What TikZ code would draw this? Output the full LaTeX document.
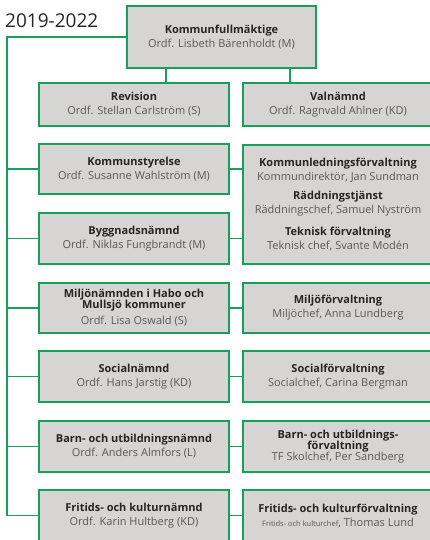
\documentclass[tikz,border=0pt]{standalone}
\usepackage{fontspec}
\setmainfont{Open Sans}
\definecolor{grn}{HTML}{16A05A}
\definecolor{boxfill}{HTML}{D6D5D3}
\definecolor{hdc}{HTML}{262626}
\definecolor{sbc}{HTML}{595959}
\newcommand\hdtxt[1]{{\color{hdc}\bfseries #1}}
\newcommand\sbtxt[1]{{\color{sbc}#1}}
\begin{document}
\begin{tikzpicture}[x=1pt,y=-1pt,
  box/.style={draw=grn, fill=boxfill, line width=1.3pt, inner sep=0pt, align=center,
    minimum width=190pt, font=\fontsize{11}{14}\selectfont},
  conn/.style={draw=grn, line width=1.1pt}]
\useasboundingbox (0,0) rectangle (430,540);
\clip (0,0) rectangle (430,540);
\fill[white] (0,0) rectangle (430,540);
\node[anchor=west, text=hdc, font=\fontsize{19}{22}\selectfont, inner sep=0pt] (yr) at (5,21) {2019-2022};
\node[box, minimum width=189pt, minimum height=62pt] (kf) at (221.5,37) {\hdtxt{Kommunfullmäktige}\\\sbtxt{Ordf. Lisbeth Bärenholdt (M)}};
\node[box, minimum height=43pt] (rev) at (134,104.5) {\hdtxt{Revision}\\\sbtxt{Ordf. Stellan Carlström (S)}};
\node[box, minimum height=43pt] (val) at (338,104.5) {\hdtxt{Valnämnd}\\\sbtxt{Ordf. Ragnvald Ahlner (KD)}};
\node[box, minimum height=50pt] (ks) at (134,169) {\hdtxt{Kommunstyrelse}\\\sbtxt{Ordf. Susanne Wahlström (M)}};
\node[box, minimum height=119pt] (kl) at (338,204.5) {\hdtxt{Kommunledningsförvaltning}\\\sbtxt{Kommundirektör, Jan Sundman}\\[5pt]\hdtxt{Räddningstjänst}\\\sbtxt{Räddningschef, Samuel Nyström}\\[8pt]\hdtxt{Teknisk förvaltning}\\\sbtxt{Teknisk chef, Svante Modén}};
\node[box, minimum height=51pt] (bn) at (134,238.5) {\hdtxt{Byggnadsnämnd}\\\sbtxt{Ordf. Niklas Fungbrandt (M)}};
\node[box, minimum height=50pt] (mn) at (134,308) {\hdtxt{Miljönämnden i Habo och}\\[-3pt]\hdtxt{Mullsjö kommuner}\\[2pt]\sbtxt{Ordf. Lisa Oswald (S)}};
\node[box, minimum height=50pt] (mf) at (338,308) {\hdtxt{Miljöförvaltning}\\\sbtxt{Miljöchef, Anna Lundberg}};
\node[box, minimum height=51pt] (sn) at (134,376.5) {\hdtxt{Socialnämnd}\\\sbtxt{Ordf. Hans Jarstig (KD)}};
\node[box, minimum height=51pt] (sf) at (338,376.5) {\hdtxt{Socialförvaltning}\\\sbtxt{Socialchef, Carina Bergman}};
\node[box, minimum height=51pt] (bu) at (134,446.5) {\hdtxt{Barn- och utbildningsnämnd}\\\sbtxt{Ordf. Anders Almfors (L)}};
\node[box, minimum height=51pt] (bf) at (338,446.5) {\hdtxt{Barn- och utbildnings-}\\[-3pt]\hdtxt{förvaltning}\\[-3.5pt]\sbtxt{TF Skolchef, Per Sandberg}};
\node[box, minimum height=51pt] (fk) at (134,515.5) {\hdtxt{Fritids- och kulturnämnd}\\\sbtxt{Ordf. Karin Hultberg (KD)}};
\node[box, minimum height=51pt] (ff) at (338,515.5) {\hdtxt{Fritids- och kulturförvaltning}\\\sbtxt{{\fontsize{7.5}{8}\selectfont Fritids- och kulturchef}, Thomas Lund}};
% bus
\coordinate (bustop) at (7,37);
\coordinate (busbot) at (7,515.5);
\draw[conn] (kf.west) -- (bustop) -- (busbot) -- (fk.west);
\foreach \n in {ks,bn,mn,sn,bu} \draw[conn] (\n.west) -- (\n.west -| bustop);
% top connectors
\draw[conn] ([xshift=32pt]rev.north) -- ([xshift=32pt]rev.north |- kf.south);
\draw[conn] ([xshift=-48pt]val.north) -- ([xshift=-48pt]val.north |- kf.south);
% row connectors
\draw[conn] (ks.east) -- (ks.east -| kl.west);
\draw[conn] (bn.east) -- (bn.east -| kl.west);
\draw[conn] (mn.east) -- (mf.west);
\draw[conn] (sn.east) -- (sf.west);
\draw[conn] (bu.east) -- (bf.west);
\draw[conn] (fk.east) -- (ff.west);
\end{tikzpicture}
\end{document}
